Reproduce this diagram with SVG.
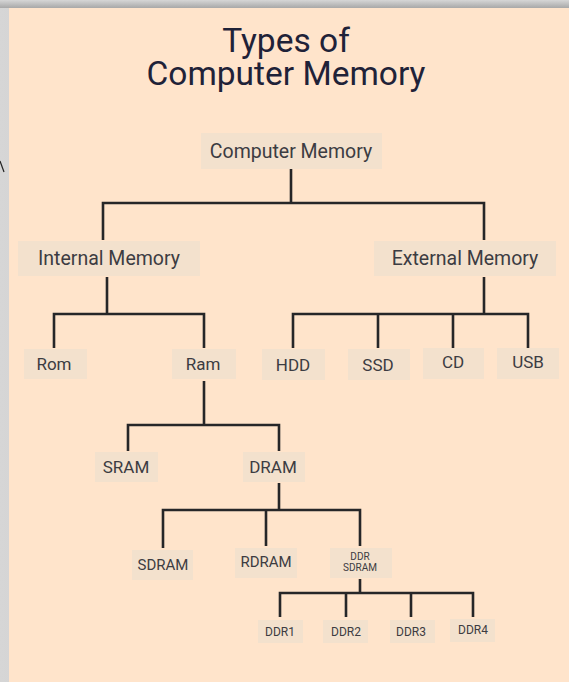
<svg xmlns="http://www.w3.org/2000/svg" width="569" height="682" viewBox="0 0 569 682">
<defs>
<style>
.bg{fill:#FFE4CB}
.box{fill:#F3E1CD}
.t{font-family:Roboto,"Liberation Sans",sans-serif;fill:#3c3c42;text-anchor:middle}
.title{font-family:Roboto,"Liberation Sans",sans-serif;fill:#1f2238;text-anchor:middle;font-size:33.5px}
.c{fill:none;stroke:#262628;stroke-width:2.6;stroke-linejoin:miter}
</style>
<linearGradient id="gl" x1="0" y1="0" x2="1" y2="0">
<stop offset="0" stop-color="#d6d6d6"/><stop offset="1" stop-color="#a8a8a8"/>
</linearGradient>
<linearGradient id="gt" x1="0" y1="0" x2="0" y2="1">
<stop offset="0" stop-color="#d6d6d6"/><stop offset="1" stop-color="#a8a8a8"/>
</linearGradient>
</defs>
<rect x="0" y="0" width="569" height="682" fill="url(#gl)"/>
<rect x="0" y="0" width="569" height="8" fill="url(#gt)"/>
<rect class="bg" x="9" y="8" width="560" height="674"/>
<line x1="0" y1="161" x2="4" y2="172" stroke="#222" stroke-width="1.2"/>
<g id="title">
<text class="title" x="286" y="52">Types of</text>
<text class="title" x="286" y="85">Computer Memory</text>
</g>
<g id="connectors">
<path class="c" d="M291 169V203M103 240V203H484V240"/>
<path class="c" d="M107 277V314M54 348V314H204V348"/>
<path class="c" d="M484 277V314M293 348V314H528V348M378 314V348M453 314V348"/>
<path class="c" d="M204 381V425M128 451V425H279V451"/>
<path class="c" d="M279 483V510M163 548V510H360V546M266 510V546"/>
<path class="c" d="M360 579V593M280 617V593H473V617M346 593V617M411 593V617"/>
</g>
<g id="n-computer"><rect class="box" x="201" y="133" width="181" height="36"/><text class="t" x="291" y="158" font-size="19.5">Computer Memory</text></g>
<g id="n-internal"><rect class="box" x="18" y="241" width="182" height="35"/><text class="t" x="109" y="265" font-size="19.5">Internal Memory</text></g>
<g id="n-external"><rect class="box" x="374" y="241" width="182" height="35"/><text class="t" x="465" y="265" font-size="19.5">External Memory</text></g>
<g id="n-rom"><rect class="box" x="24" y="349" width="63" height="30"/><text class="t" x="54" y="370" font-size="17">Rom</text></g>
<g id="n-ram"><rect class="box" x="172" y="349" width="64" height="30"/><text class="t" x="203" y="370" font-size="17">Ram</text></g>
<g id="n-hdd"><rect class="box" x="262" y="349" width="63" height="31"/><text class="t" x="293" y="371" font-size="17">HDD</text></g>
<g id="n-ssd"><rect class="box" x="348" y="349" width="62" height="31"/><text class="t" x="378" y="371" font-size="17">SSD</text></g>
<g id="n-cd"><rect class="box" x="423" y="348" width="61" height="31"/><text class="t" x="453" y="368" font-size="17">CD</text></g>
<g id="n-usb"><rect class="box" x="497" y="348" width="62" height="31"/><text class="t" x="528" y="368" font-size="17">USB</text></g>
<g id="n-sram"><rect class="box" x="95" y="452" width="63" height="30"/><text class="t" x="126" y="473" font-size="17">SRAM</text></g>
<g id="n-dram"><rect class="box" x="243" y="452" width="62" height="30"/><text class="t" x="273" y="473" font-size="17">DRAM</text></g>
<g id="n-sdram"><rect class="box" x="132" y="550" width="61" height="30"/><text class="t" x="163" y="570" font-size="15">SDRAM</text></g>
<g id="n-rdram"><rect class="box" x="235" y="548" width="62" height="30"/><text class="t" x="266" y="567" font-size="15">RDRAM</text></g>
<g id="n-ddrsdram"><rect class="box" x="330" y="548" width="62" height="30"/><text class="t" x="360" y="560" font-size="10">DDR</text><text class="t" x="360" y="571" font-size="10">SDRAM</text></g>
<g id="n-ddr1"><rect class="box" x="258" y="620" width="45" height="23"/><text class="t" x="280" y="636" font-size="12">DDR1</text></g>
<g id="n-ddr2"><rect class="box" x="323" y="620" width="45" height="23"/><text class="t" x="346" y="636" font-size="12">DDR2</text></g>
<g id="n-ddr3"><rect class="box" x="390" y="620" width="45" height="23"/><text class="t" x="411" y="636" font-size="12">DDR3</text></g>
<g id="n-ddr4"><rect class="box" x="450" y="619" width="45" height="23"/><text class="t" x="473" y="634" font-size="12">DDR4</text></g>
</svg>
